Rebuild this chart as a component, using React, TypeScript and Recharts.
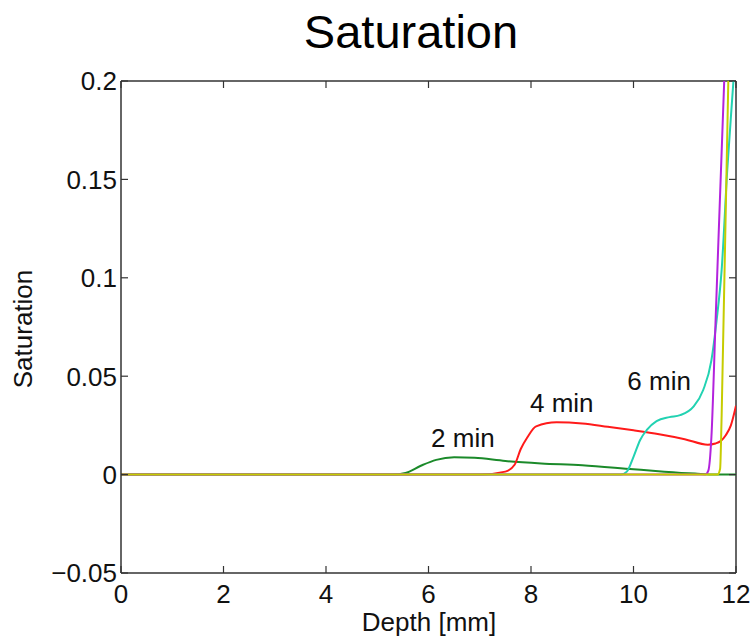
import { LineChart, Line, XAxis, YAxis, ReferenceLine, ReferenceDot } from 'recharts'

// axes
const depthTicks = [0, 2, 4, 6, 8, 10, 12]
const satTicks = [-0.05, 0, 0.05, 0.1, 0.15, 0.2]

// 2 min
const depth2 = [0, 5.3, 5.55, 5.85, 6.15, 6.5, 6.9, 7.5, 8.2, 9.0, 10.0, 10.6, 11.2, 11.6, 12]
const sat2 = [0, 0, 0.0008, 0.0045, 0.0075, 0.0088, 0.0085, 0.0069, 0.0057, 0.0048, 0.0027, 0.0015, 0.0005, 0, 0]

// 4 min
const depth4 = [0, 7.0, 7.5, 7.68, 7.8, 7.93, 8.1, 8.5, 9.0, 9.5, 10.0, 10.5, 11.0, 11.45, 11.6, 11.7, 11.8, 11.9, 12]
const sat4 = [0, 0, 0.0015, 0.005, 0.013, 0.019, 0.0245, 0.0266, 0.026, 0.0243, 0.0225, 0.0205, 0.018, 0.0152, 0.0158, 0.017, 0.02, 0.025, 0.035]

// 6 min
const depth6 = [0, 9.75, 9.87, 10.0, 10.13, 10.26, 10.45, 10.7, 10.91, 11.17, 11.36, 11.52, 11.62, 11.72, 11.83, 11.95, 12]
const sat6 = [0, 0, 0.0015, 0.009, 0.0176, 0.0227, 0.0272, 0.0292, 0.0302, 0.0345, 0.043, 0.058, 0.078, 0.104, 0.155, 0.2, 0.22]

// purple
const depthP = [0, 11.4, 11.46, 11.52, 11.6, 11.77, 11.8]
const satP = [0, 0, 0.002, 0.019, 0.077, 0.2, 0.22]

// yellow
const depthY = [0, 11.64, 11.69, 11.72, 11.85, 11.87]
const satY = [0, 0, 0.003, 0.03, 0.2, 0.22]

const curveLabels = ['2 min', '4 min', '6 min']
const labelDepth = [6.67, 8.6, 10.5]
const labelSat = [0.0189, 0.0364, 0.0476]

const toPoints = (xs: number[], ys: number[]) => xs.map((d, i) => ({ depth: d, sat: ys[i] }))

const series = [
  { name: '2 min', data: toPoints(depth2, sat2), color: '#1b8a2a' },
  { name: '4 min', data: toPoints(depth4, sat4), color: '#ff1a1a' },
  { name: '6 min', data: toPoints(depth6, sat6), color: '#22d2b2' },
  { name: '8 min', data: toPoints(depthP, satP), color: '#b322dd' },
  { name: '10 min', data: toPoints(depthY, satY), color: '#c6cc00' },
]

const W = 753
const H = 637
const LEFT = 121
const TOP = 81
const RIGHT = 736
const BOTTOM = 573
const TICK = 7
const AXIS = '#333'
const FONT = '"Liberation Sans", Arial, Helvetica, sans-serif'

const fmt = (v: number) => (v < 0 ? '\u2212' + String(-v) : String(v))

function XTick({ x, payload }: any) {
  return (
    <g>
      <line x1={x} x2={x} y1={BOTTOM} y2={BOTTOM - TICK} stroke={AXIS} strokeWidth={1.2} />
      <line x1={x} x2={x} y1={TOP} y2={TOP + TICK} stroke={AXIS} strokeWidth={1.2} />
      <text x={x} y={BOTTOM + 30} textAnchor="middle" fontSize={26} fontFamily={FONT} fill="#111">
        {fmt(payload.value)}
      </text>
    </g>
  )
}

function YTick({ y, payload }: any) {
  return (
    <g>
      <line x1={LEFT} x2={LEFT + TICK} y1={y} y2={y} stroke={AXIS} strokeWidth={1.2} />
      <line x1={RIGHT} x2={RIGHT - TICK} y1={y} y2={y} stroke={AXIS} strokeWidth={1.2} />
      <text x={LEFT - 4} y={y} dy="0.36em" textAnchor="end" fontSize={26} fontFamily={FONT} fill="#111">
        {fmt(payload.value)}
      </text>
    </g>
  )
}

export default function App() {
  return (
    <div style={{ position: 'absolute', left: 0, top: 0, width: W, height: H, background: '#fff' }}>
      <LineChart width={W} height={H} margin={{ top: TOP, right: W - RIGHT, bottom: 0, left: 0 }}>
        <XAxis
          type="number"
          dataKey="depth"
          domain={[0, 12]}
          ticks={depthTicks}
          allowDataOverflow
          height={H - BOTTOM}
          tickSize={0}
          tickMargin={0}
          tickLine={false}
          axisLine={{ stroke: AXIS, strokeWidth: 1.5 }}
          tick={<XTick />}
        />
        <YAxis
          type="number"
          dataKey="sat"
          domain={[-0.05, 0.2]}
          ticks={satTicks}
          allowDataOverflow
          width={LEFT}
          tickSize={0}
          tickMargin={0}
          tickLine={false}
          axisLine={{ stroke: AXIS, strokeWidth: 1.5 }}
          tick={<YTick />}
        />
        <ReferenceLine y={0.2} stroke={AXIS} strokeWidth={1.5} />
        <ReferenceLine x={12} stroke={AXIS} strokeWidth={1.5} />
        {series.map((s) => (
          <Line
            key={s.name}
            data={s.data}
            dataKey="sat"
            type="monotone"
            stroke={s.color}
            strokeWidth={2}
            dot={false}
            isAnimationActive={false}
          />
        ))}
        {curveLabels.map((t, i) => (
          <ReferenceDot
            key={t}
            x={labelDepth[i]}
            y={labelSat[i]}
            r={0}
            fill="none"
            stroke="none"
            label={{ value: t, position: 'center', fontSize: 26, fontFamily: FONT, fill: '#111' }}
          />
        ))}
      </LineChart>
      <svg width={W} height={H} style={{ position: 'absolute', left: 0, top: 0, pointerEvents: 'none' }}>
        <text x={411} y={48} textAnchor="middle" fontSize={47} fontFamily={FONT} fill="#000">
          Saturation
        </text>
        <text
          x={0}
          y={0}
          transform="translate(32,329) rotate(-90)"
          textAnchor="middle"
          fontSize={26}
          fontFamily={FONT}
          fill="#111"
        >
          Saturation
        </text>
        <text x={429} y={631} textAnchor="middle" fontSize={26} fontFamily={FONT} fill="#111">
          Depth [mm]
        </text>
      </svg>
    </div>
  )
}
